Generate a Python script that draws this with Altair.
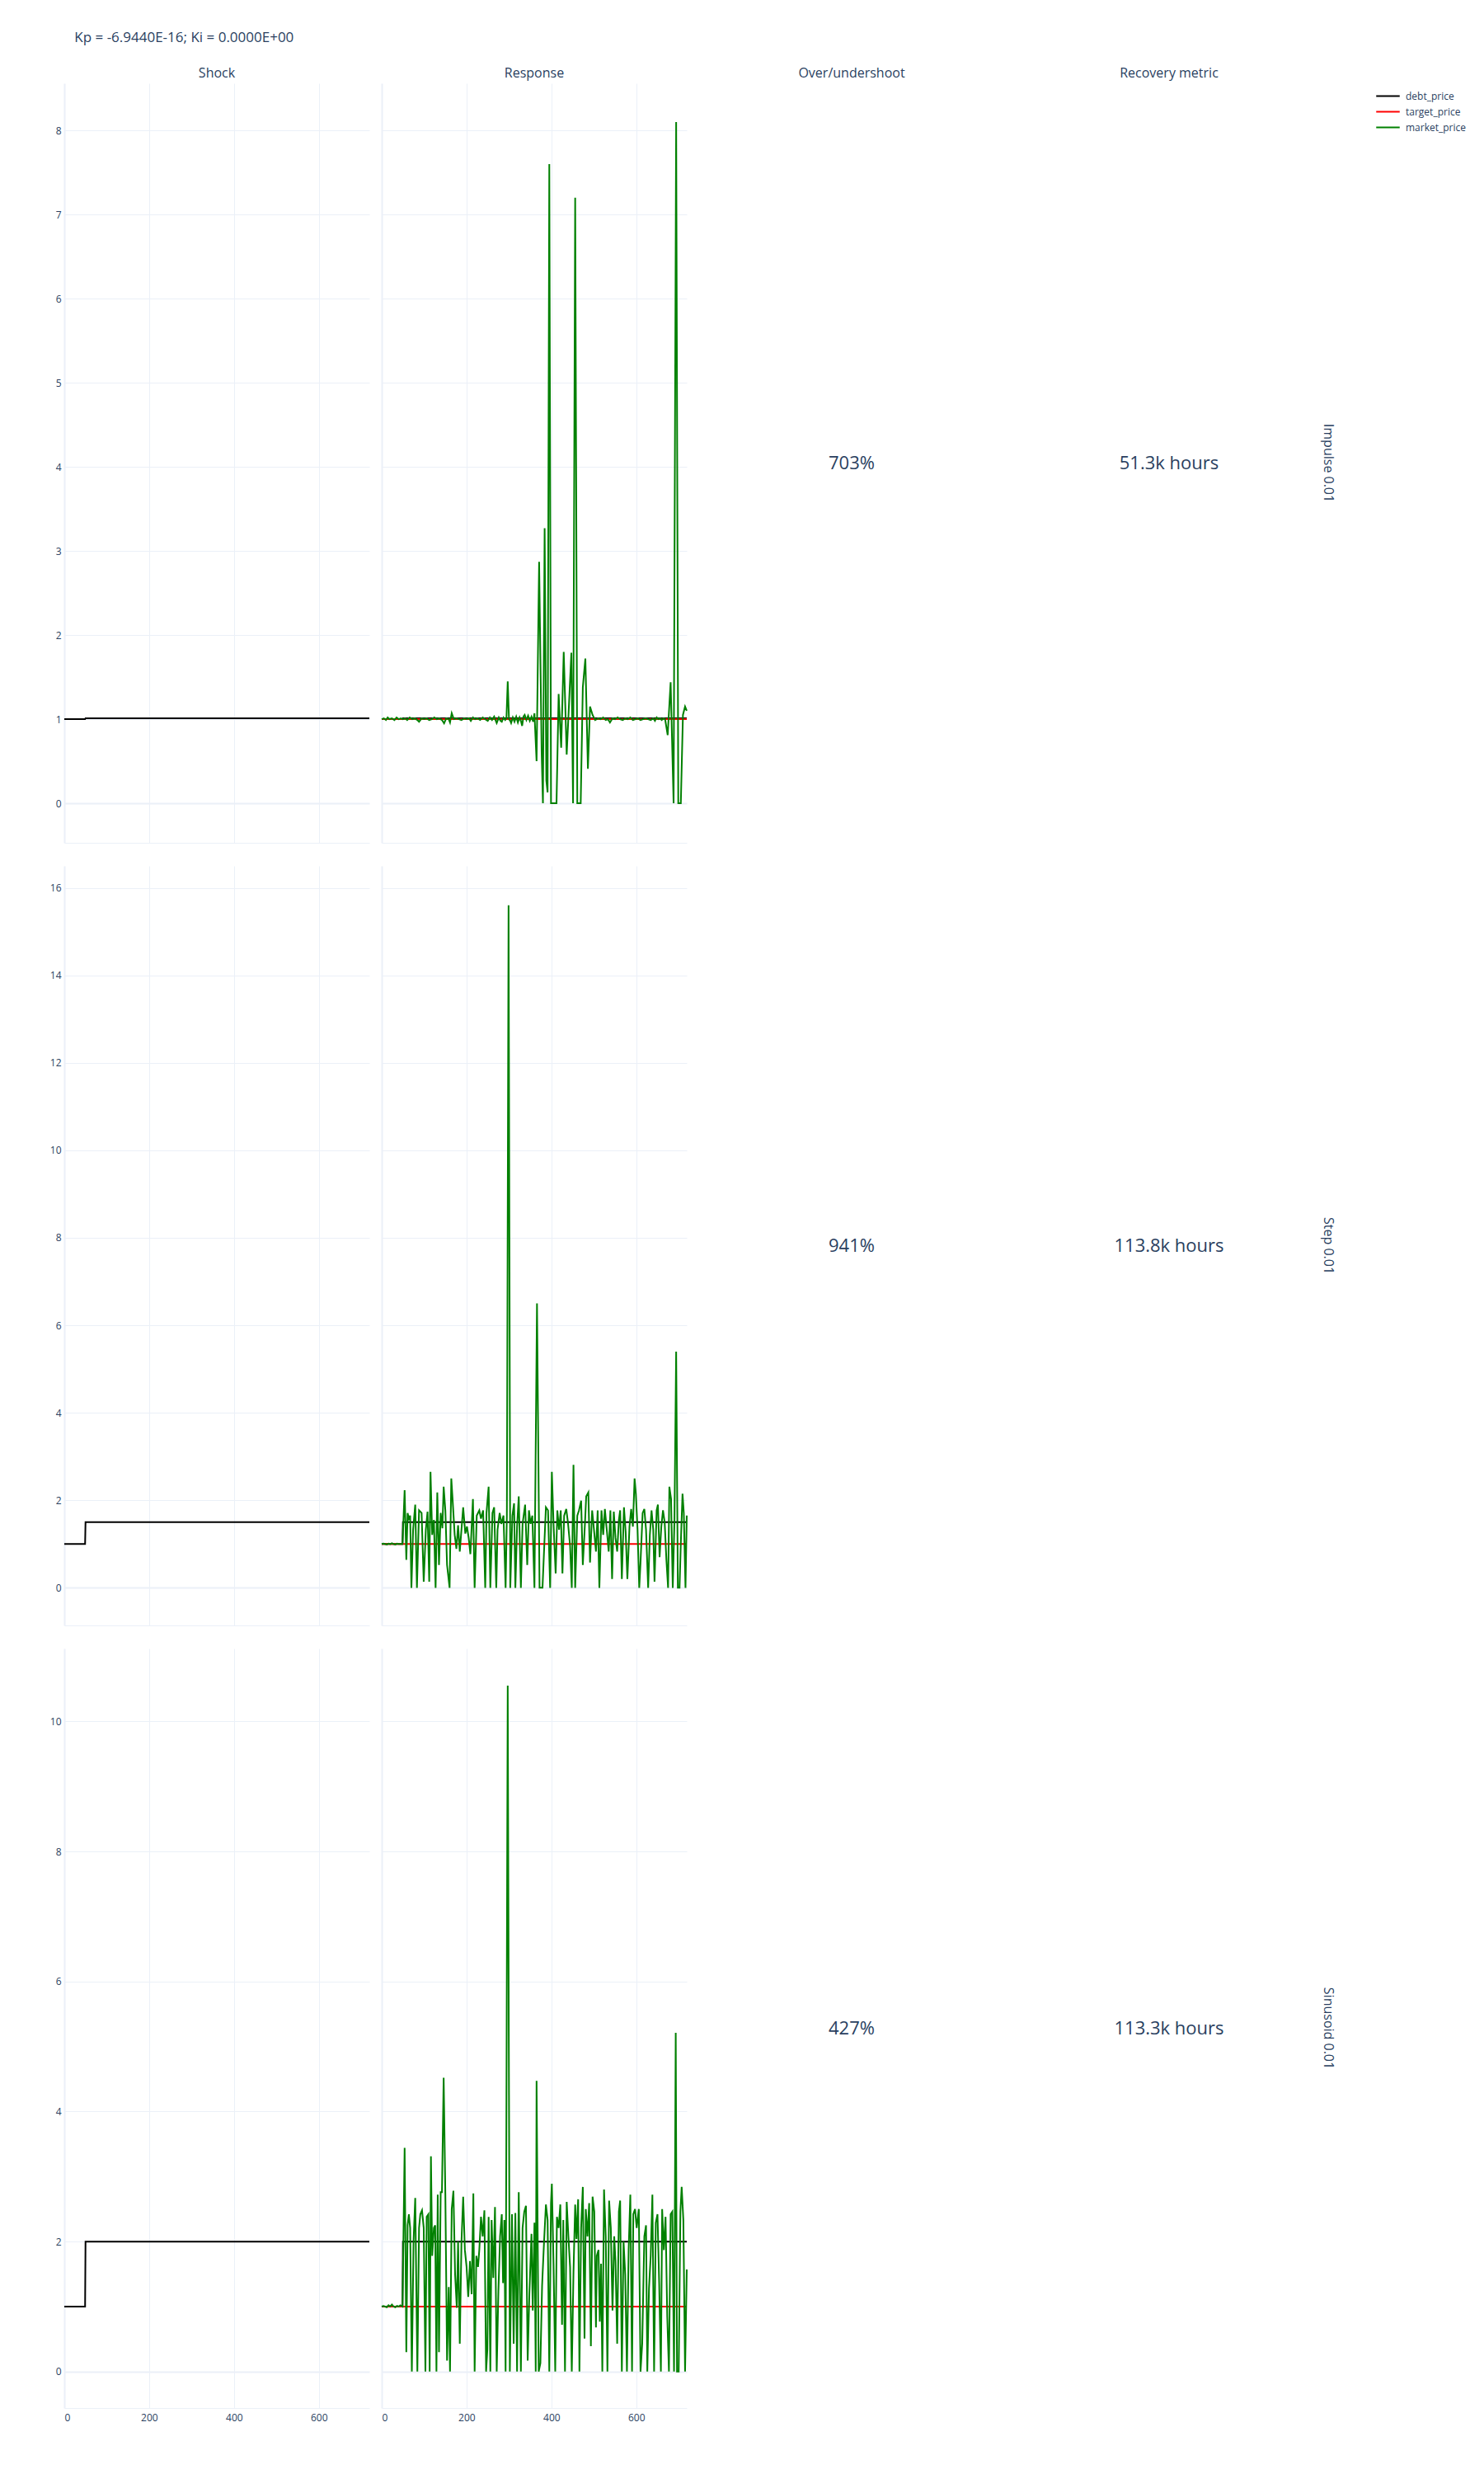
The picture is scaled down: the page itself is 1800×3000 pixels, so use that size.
import altair as alt
import pandas as pd

FONT = "Open Sans"
TEXT_COLOR = "#2a3f5f"
GRID_COLOR = "#ebf0f8"
PANEL_W = 370
PANEL_H = 921

TITLE = "Kp = -6.9440E-16; Ki = 0.0000E+00"
COLUMN_TITLES = ["Shock", "Response", "Over/undershoot", "Recovery metric"]
ROW_LABELS = ["Impulse 0.01", "Step 0.01", "Sinusoid 0.01"]
OVERSHOOT = ["703%", "941%", "427%"]
RECOVERY = ["51.3k hours", "113.8k hours", "113.3k hours"]
SERIES = ["debt_price", "target_price", "market_price"]
COLORS = ["black", "red", "green"]

X_TICKS = [0, 200, 400, 600]
X_DOMAIN = [0, 719]
Y_DOMAINS = [[-0.47, 8.56], [-0.86, 16.5], [-0.56, 11.12]]
Y_TICKS = [[0, 1, 2, 3, 4, 5, 6, 7, 8],
           [0, 2, 4, 6, 8, 10, 12, 14, 16],
           [0, 2, 4, 6, 8, 10]]

DEBT_HOURS = [0, 49, 50, 719]
DEBT_IMPULSE = [1.0, 1.0, 1.01, 1.01]
DEBT_STEP = [1.0, 1.0, 1.5, 1.5]
DEBT_SINUSOID = [1.0, 1.0, 2.0, 2.0]
TARGET_HOURS = [0, 719]
TARGET_PRICE = [1.0, 1.0]

MARKET_IMPULSE = [
    (0, 1.0), (5, 1.01), (10, 0.99), (14, 1.02), (18, 1.0), (24, 1.01), (30, 0.99), (35, 1.02),
    (40, 1.0), (45, 1.01), (50, 1.0), (55, 1.01), (60, 0.99), (66, 1.02), (72, 1.0), (78, 1.01),
    (84, 0.99), (88, 0.97), (94, 1.01), (100, 1.0), (106, 1.01), (112, 0.99), (118, 1.0), (124, 1.02),
    (130, 1.0), (136, 1.01), (142, 0.99), (147, 0.95), (152, 1.01), (158, 1.0), (161, 0.96), (165, 1.07),
    (170, 1.0), (176, 1.01), (182, 1.0), (188, 0.99), (194, 1.01), (200, 1.0), (206, 1.01), (210, 0.98),
    (215, 1.02), (220, 1.0), (226, 1.01), (232, 0.99), (238, 1.02), (244, 1.0), (250, 0.98), (255, 1.02),
    (260, 0.99), (265, 1.03), (271, 0.955), (276, 1.02), (280, 0.98), (283, 0.97), (287, 1.02), (291, 0.99),
    (294, 1.01), (297, 1.45), (300, 1.0), (303, 0.98), (305, 0.955), (309, 1.02), (313, 0.97), (317, 1.03),
    (321, 0.96), (325, 1.02), (328, 0.98), (331, 0.92), (334, 1.03), (337, 1.05), (341, 0.99), (345, 1.04),
    (349, 0.98), (353, 1.03), (357, 0.97), (360, 1.07), (365, 0.5), (371, 2.87), (377, 0.6), (380, 0.0),
    (384, 3.27), (388, 0.27), (391, 0.13), (395, 7.6), (399, 0.0), (412, 0.0), (417, 1.3), (423, 0.66),
    (429, 1.8), (436, 0.58), (447, 1.79), (451, 0.0), (456, 7.2), (461, 0.0), (469, 0.0), (474, 1.38),
    (480, 1.72), (486, 0.41), (491, 1.15), (497, 1.05), (503, 0.99), (510, 1.01), (516, 1.0), (522, 1.02),
    (528, 0.99), (533, 1.0), (538, 0.96), (544, 1.01), (550, 1.0), (556, 1.02), (562, 1.0), (568, 0.99),
    (574, 1.01), (580, 1.0), (586, 1.02), (592, 0.99), (598, 1.0), (604, 1.01), (610, 0.99), (616, 1.0),
    (622, 1.01), (628, 1.0), (634, 0.99), (640, 1.01), (644, 0.98), (648, 1.02), (652, 1.0), (656, 1.01),
    (660, 0.99), (664, 1.01), (668, 1.0), (674, 0.81), (681, 1.44), (688, 0.0), (694, 8.1), (699, 0.0),
    (705, 0.0), (710, 1.05), (715, 1.15), (719, 1.1),
]

MARKET_STEP = [
    (0, 1.0), (4, 1.01), (8, 1.0), (12, 0.99), (16, 1.01), (20, 1.0), (24, 1.02), (28, 1.0),
    (32, 0.99), (36, 1.01), (40, 1.0), (44, 1.0), (49, 1.0),
    (54, 2.23), (58, 0.64), (61, 1.71), (64, 1.58), (67, 1.65), (70, 0.0), (74, 1.33), (79, 1.9),
    (83, 0.0), (88, 1.77), (94, 1.71), (99, 0.14), (104, 1.33), (108, 1.74), (112, 0.14), (115, 2.65),
    (119, 1.21), (123, 1.55), (127, 0.0), (131, 2.18), (135, 0.52), (139, 1.71), (143, 1.36), (146, 2.31),
    (150, 1.77), (154, 0.52), (160, 0.0), (164, 2.5), (167, 2.03), (172, 1.21), (176, 0.89), (180, 1.43),
    (184, 0.83), (189, 1.46), (192, 1.84), (197, 1.24), (201, 1.4), (205, 1.14), (209, 0.77), (215, 2.03),
    (219, 0.0), (224, 1.65), (230, 1.77), (234, 1.58), (239, 1.77), (244, 0.0), (247, 1.71), (252, 2.31),
    (256, 0.0), (261, 1.71), (265, 1.84), (270, 0.0), (273, 1.33), (278, 1.71), (282, 1.46), (287, 1.65),
    (292, 0.0), (295, 1.65), (299, 15.6), (303, 0.0), (308, 1.65), (312, 1.93), (315, 0.0), (319, 1.4),
    (323, 2.09), (328, 0.0), (332, 1.46), (338, 1.9), (343, 0.52), (347, 1.77), (351, 1.46), (355, 1.65),
    (360, 0.0), (366, 6.5), (372, 0.0), (379, 0.0), (382, 0.7), (387, 1.84), (392, 1.77), (397, 0.0),
    (401, 2.65), (405, 1.46), (410, 0.33), (414, 1.77), (418, 1.33), (422, 1.77), (426, 0.33), (430, 1.65),
    (435, 1.8), (439, 1.49), (444, 0.96), (448, 0.0), (452, 2.81), (456, 0.0), (461, 1.65), (465, 1.77),
    (470, 1.99), (474, 0.52), (479, 1.46), (482, 2.09), (487, 2.18), (491, 0.58), (496, 1.77), (500, 1.36),
    (505, 0.83), (509, 1.77), (513, 0.0), (518, 1.77), (522, 1.21), (526, 1.8), (531, 1.27), (535, 0.83),
    (539, 1.77), (543, 0.2), (547, 1.74), (551, 1.14), (555, 0.83), (559, 1.55), (562, 1.77), (566, 0.2),
    (571, 1.84), (575, 1.27), (579, 0.2), (584, 1.4), (588, 1.8), (592, 1.4), (596, 2.5), (599, 2.15),
    (603, 1.33), (607, 0.0), (610, 0.58), (615, 1.71), (619, 1.8), (623, 1.33), (628, 0.0), (632, 1.21),
    (636, 1.77), (640, 1.33), (643, 0.14), (648, 1.77), (651, 1.9), (655, 0.7), (659, 1.4), (663, 1.77),
    (667, 1.49), (671, 0.64), (675, 0.0), (678, 2.31), (682, 2.03), (686, 0.0), (690, 1.55), (694, 5.4),
    (698, 0.0), (702, 0.0), (705, 1.02), (709, 2.15), (712, 1.71), (716, 0.0), (719, 1.65),
]

MARKET_SINUSOID = [
    (0, 1.0), (4, 1.01), (8, 1.0), (12, 0.99), (16, 1.02), (20, 1.0), (24, 1.03), (28, 1.0),
    (32, 0.99), (36, 1.01), (40, 1.0), (44, 1.02), (49, 1.0),
    (54, 3.44), (58, 0.3), (61, 2.25), (64, 2.42), (67, 2.21), (71, 0.0), (75, 2.0), (79, 2.67),
    (84, 0.0), (88, 2.21), (91, 2.42), (95, 2.48), (99, 2.21), (103, 0.0), (106, 2.38), (110, 2.42),
    (113, 0.0), (116, 3.31), (119, 1.78), (123, 2.21), (126, 2.25), (129, 0.0), (132, 2.72), (135, 0.3),
    (139, 2.76), (142, 2.76), (146, 4.52), (150, 2.72), (154, 0.17), (158, 1.3), (161, 0.0), (165, 2.5),
    (169, 2.78), (173, 1.49), (177, 0.98), (180, 2.0), (184, 0.43), (188, 2.0), (192, 2.69), (196, 1.87),
    (200, 1.61), (204, 1.15), (208, 1.7), (212, 1.19), (216, 2.74), (219, 0.0), (223, 1.78), (227, 1.61),
    (230, 1.87), (234, 2.38), (238, 2.08), (242, 2.48), (246, 0.0), (249, 0.34), (252, 2.38), (256, 0.0),
    (259, 2.33), (263, 1.44), (267, 2.53), (271, 0.0), (275, 1.23), (279, 2.08), (283, 2.42), (286, 1.36),
    (289, 2.33), (292, 0.0), (297, 10.55), (302, 0.0), (307, 2.42), (311, 0.43), (315, 2.44), (319, 0.0),
    (323, 2.76), (328, 0.0), (332, 2.21), (336, 2.46), (340, 2.55), (344, 0.17), (348, 1.19), (353, 2.12),
    (356, 0.94), (360, 2.29), (363, 0.0), (365, 4.47), (370, 0.0), (374, 0.13), (378, 1.32), (382, 1.91),
    (387, 2.57), (391, 2.33), (395, 0.0), (399, 2.59), (401, 2.89), (405, 1.66), (409, 0.0), (413, 2.38),
    (417, 2.21), (421, 2.57), (425, 0.72), (428, 2.33), (432, 0.0), (436, 2.61), (440, 2.08), (444, 1.61),
    (448, 0.0), (452, 1.53), (456, 2.57), (459, 2.04), (463, 2.65), (466, 0.0), (470, 2.21), (474, 2.84),
    (478, 0.51), (481, 2.5), (485, 2.08), (489, 2.59), (493, 0.39), (497, 2.69), (501, 2.46), (505, 0.68),
    (507, 1.78), (511, 1.87), (514, 0.77), (517, 1.66), (520, 0.0), (524, 2.8), (528, 2.08), (532, 0.0),
    (536, 2.63), (540, 2.21), (544, 0.94), (548, 2.08), (551, 1.7), (555, 0.43), (559, 2.46), (562, 2.63),
    (566, 0.0), (570, 2.0), (574, 1.49), (578, 0.0), (582, 1.87), (586, 2.72), (590, 0.0), (593, 2.42),
    (597, 2.5), (601, 2.21), (606, 2.5), (610, 0.0), (614, 0.43), (619, 2.08), (623, 2.25), (626, 0.0),
    (630, 1.28), (634, 1.78), (638, 2.72), (642, 0.0), (646, 2.29), (650, 2.42), (654, 1.36), (658, 0.0),
    (661, 2.5), (665, 1.87), (669, 2.38), (673, 0.85), (677, 0.0), (681, 2.42), (685, 2.46), (689, 0.0),
    (693, 5.21), (696, 0.0), (700, 0.0), (704, 2.46), (707, 2.84), (711, 2.33), (715, 0.0), (719, 1.57),
]

DEBTS = [DEBT_IMPULSE, DEBT_STEP, DEBT_SINUSOID]
MARKETS = [MARKET_IMPULSE, MARKET_STEP, MARKET_SINUSOID]


def make_df(debt, market):
    recs = []
    for h, v in zip(DEBT_HOURS, debt):
        recs.append({"hour": h, "price": v, "series": "debt_price"})
    for h, v in zip(TARGET_HOURS, TARGET_PRICE):
        recs.append({"hour": h, "price": v, "series": "target_price"})
    for h, v in market:
        recs.append({"hour": h, "price": v, "series": "market_price"})
    return pd.DataFrame(recs)


color_scale = alt.Scale(domain=SERIES, range=COLORS)
zero_width = {"condition": {"test": "datum.value === 0", "value": 2}, "value": 1}


def col_title(text):
    return alt.TitleParams(text=text, font=FONT, fontSize=16, fontWeight="normal",
                           color=TEXT_COLOR, anchor="middle", offset=4)


def line_panel(df, names, row, first_col, title):
    last_row = row == 2
    x = alt.X("hour:Q", scale=alt.Scale(domain=X_DOMAIN, nice=False, zero=False),
              axis=alt.Axis(values=X_TICKS, labels=last_row, ticks=False, domain=True,
                            domainColor=GRID_COLOR, domainWidth=1, grid=True,
                            gridWidth=zero_width, title=None, labelPadding=6))
    y = alt.Y("price:Q", scale=alt.Scale(domain=Y_DOMAINS[row], nice=False, zero=False),
              axis=alt.Axis(values=Y_TICKS[row], labels=first_col, ticks=False, domain=False,
                            grid=True, gridWidth=zero_width, title=None, labelPadding=4))
    layers = []
    for n in names:
        layers.append(
            alt.Chart(df).transform_filter(alt.datum.series == n)
            .mark_line(strokeWidth=2)
            .encode(x=x, y=y, order="hour:Q",
                    color=alt.Color("series:N", scale=color_scale, legend=alt.Legend(title=None)))
        )
    ch = alt.layer(*layers).properties(width=PANEL_W, height=PANEL_H)
    if title:
        ch = ch.properties(title=col_title(title))
    return ch


def text_panel(label, title, row_label=None):
    df = pd.DataFrame({"label": [label]})
    t = alt.Chart(df).mark_text(font=FONT, fontSize=22, color=TEXT_COLOR, align="center",
                                baseline="middle").encode(
        x=alt.value(PANEL_W / 2), y=alt.value(PANEL_H / 2), text="label:N")
    if row_label is not None:
        rdf = pd.DataFrame({"label": [row_label]})
        r = alt.Chart(rdf).mark_text(font=FONT, fontSize=16, color=TEXT_COLOR, align="center",
                                     baseline="middle", angle=90).encode(
            x=alt.value(PANEL_W + 8), y=alt.value(PANEL_H / 2), text="label:N")
        ch = alt.layer(t, r).properties(width=PANEL_W, height=PANEL_H)
    else:
        ch = t.properties(width=PANEL_W, height=PANEL_H)
    if title:
        ch = ch.properties(title=col_title(title))
    return ch


cells = []
for i in range(3):
    df = make_df(DEBTS[i], MARKETS[i])
    top = i == 0
    cells.append(line_panel(df, ["debt_price"], i, True, COLUMN_TITLES[0] if top else None))
    cells.append(line_panel(df, SERIES, i, False, COLUMN_TITLES[1] if top else None))
    cells.append(text_panel(OVERSHOOT[i], COLUMN_TITLES[2] if top else None))
    cells.append(text_panel(RECOVERY[i], COLUMN_TITLES[3] if top else None, ROW_LABELS[i]))

chart = alt.concat(
    *cells, columns=4, spacing={"row": 28, "column": 15}, bounds="flush",
    padding={"left": 52, "top": 29, "right": 10, "bottom": 20},
    title=alt.TitleParams(text=TITLE, anchor="start", font=FONT, fontSize=17,
                          fontWeight="normal", color=TEXT_COLOR, offset=26, dx=30),
).resolve_scale(color="shared").resolve_legend(color="shared")

chart = chart.configure_view(stroke=None).configure_axis(
    labelFont=FONT, labelFontSize=12, labelColor=TEXT_COLOR, gridColor=GRID_COLOR
).configure_legend(
    orient="none", legendX=1595, legendY=5, padding=0,
    labelFont=FONT, labelFontSize=12, labelColor=TEXT_COLOR,
    symbolType="M-1.5,0H1.5", symbolSize=361, symbolStrokeWidth=2, labelOffset=11, rowPadding=2,
)

chart.save("out.html", embed_options={"renderer": "svg", "actions": False})
